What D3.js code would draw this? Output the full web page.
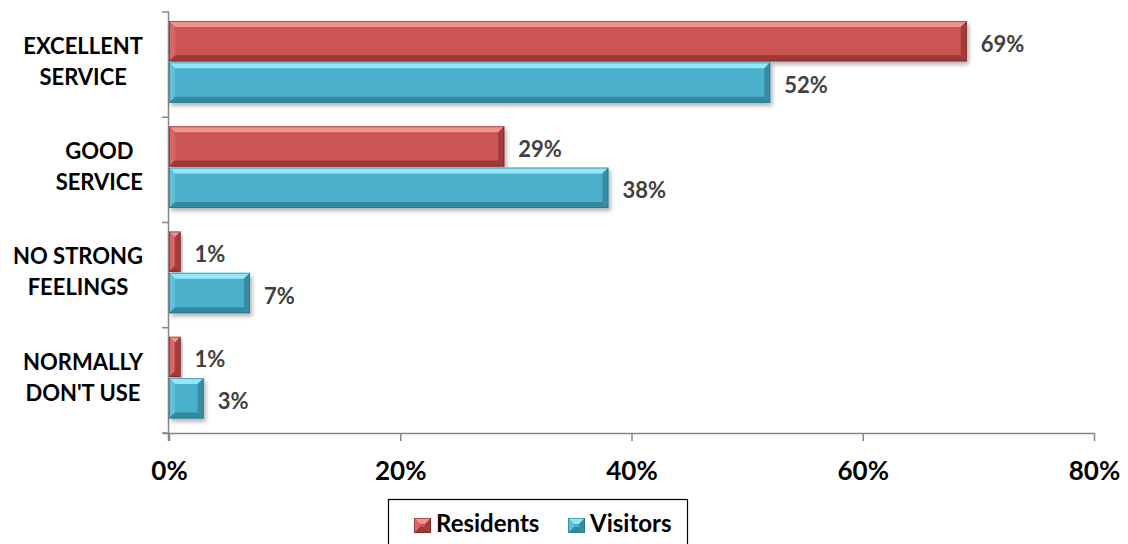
<!DOCTYPE html>
<html>
<head>
<meta charset="utf-8">
<script src="https://cdn.jsdelivr.net/npm/d3@7"></script>
<style>
  html, body { margin: 0; padding: 0; background: #fff; }
  svg { display: block; }
  text { font-family: Lato, "Open Sans", "Liberation Sans", sans-serif; font-weight: 700; }
</style>
</head>
<body>
<svg id="chart" width="1128" height="544"></svg>
<script>
// Survey categories (top to bottom) and the two respondent groups
const categories = ["EXCELLENT SERVICE", "GOOD SERVICE", "NO STRONG FEELINGS", "NORMALLY DON'T USE"];
const categoryLines = [["EXCELLENT", "SERVICE"], ["GOOD", "SERVICE"], ["NO STRONG", "FEELINGS"], ["NORMALLY", "DON'T USE"]];
const seriesNames = ["Residents", "Visitors"];
const residents = [69, 29, 1, 1];
const visitors = [52, 38, 7, 3];
const xTicks = [0, 20, 40, 60, 80];

const palette = {
  Residents: { body: "#CB5452", light: "#F39391", mid: "#D86664", dark: "#8E3231", edge: "#6E2221" },
  Visitors:  { body: "#4BB0CB", light: "#93E9FB", mid: "#5FC1DA", dark: "#2F7F93", edge: "#23667A" }
};

const svg = d3.select("#chart");
const plot = { left: 169, right: 1094, top: 12, bottom: 433 };

const x = d3.scaleLinear().domain([0, 80]).range([plot.left, plot.right]);
const y = d3.scaleBand().domain(categories).range([plot.top, plot.bottom])
  .paddingInner(0.215).paddingOuter(0.1075).align(0.4);
const ys = d3.scaleBand().domain(seriesNames).range([0, y.bandwidth()]).padding(0);

const defs = svg.append("defs");
const shadow = defs.append("filter").attr("id", "barShadow")
  .attr("x", "-10%").attr("y", "-20%").attr("width", "130%").attr("height", "160%");
shadow.append("feDropShadow").attr("dx", 2).attr("dy", 3).attr("stdDeviation", 2)
  .attr("flood-color", "#000").attr("flood-opacity", 0.3);

// Axes
const axisColor = "#868686";
const xAxis = svg.append("g").attr("transform", `translate(0,${plot.bottom})`)
  .call(d3.axisBottom(x).tickValues(xTicks).tickSize(8).tickSizeOuter(0).tickFormat(d => d + "%"));
xAxis.select(".domain").attr("stroke", axisColor).attr("stroke-width", 1.5)
  .attr("d", `M${plot.left - 6},0.5H${plot.right}`);
xAxis.selectAll(".tick line").attr("stroke", axisColor).attr("stroke-width", 1.5);
xAxis.selectAll(".tick text").attr("fill", "#000").attr("font-size", 26).attr("dy", 0).attr("y", 47);

const yTickPos = d3.range(categories.length + 1).map(i => plot.top + i * (plot.bottom - plot.top) / categories.length);
const yAxis = svg.append("g");
yAxis.append("line").attr("x1", plot.left - 0.5).attr("x2", plot.left - 0.5)
  .attr("y1", plot.top).attr("y2", plot.bottom + 8).attr("stroke", axisColor).attr("stroke-width", 1.5);
yAxis.selectAll("line.tk").data(yTickPos).join("line").attr("class", "tk")
  .attr("x1", plot.left - 7).attr("x2", plot.left).attr("y1", d => d).attr("y2", d => d)
  .attr("stroke", axisColor).attr("stroke-width", 1.5);

// Category labels: two centred lines, block right-aligned near the axis
const labelRight = 143;
categories.forEach((c, i) => {
  const cy = y(c) + y.bandwidth() / 2;
  const g = svg.append("g");
  const lines = categoryLines[i];
  const t = g.selectAll("text").data(lines).join("text")
    .attr("font-size", 22).attr("fill", "#000").attr("text-anchor", "middle")
    .attr("y", (d, j) => cy + (j - 0.5) * 31 + 7)
    .text(d => d);
  let maxW = 0;
  t.each(function () { maxW = Math.max(maxW, this.getComputedTextLength()); });
  t.attr("x", labelRight - maxW / 2);
});

// Bevelled bars
function drawBar(g, x0, x1, y0, h, col, withShadow) {
  const w = x1 - x0;
  const b = Math.min(6, w / 2, h / 2);
  const bar = g.append("g");
  if (withShadow) bar.attr("filter", "url(#barShadow)");
  bar.append("rect").attr("x", x0).attr("y", y0).attr("width", w).attr("height", h).attr("fill", col.body);
  const pts = (arr) => arr.map(p => p.join(",")).join(" ");
  // top facet
  bar.append("polygon").attr("points", pts([[x0, y0], [x1, y0], [x1 - b, y0 + b], [x0 + b, y0 + b]])).attr("fill", col.light);
  // left facet
  bar.append("polygon").attr("points", pts([[x0, y0], [x0 + b, y0 + b], [x0 + b, y0 + h - b], [x0, y0 + h]])).attr("fill", col.mid);
  // right facet
  bar.append("polygon").attr("points", pts([[x1, y0], [x1, y0 + h], [x1 - b, y0 + h - b], [x1 - b, y0 + b]])).attr("fill", col.dark).attr("opacity", 0.7);
  // bottom facet
  bar.append("polygon").attr("points", pts([[x0, y0 + h], [x0 + b, y0 + h - b], [x1 - b, y0 + h - b], [x1, y0 + h]])).attr("fill", col.dark).attr("opacity", 0.8);
  bar.append("rect").attr("x", x0 + 0.5).attr("y", y0 + 0.5).attr("width", Math.max(0, w - 1)).attr("height", h - 1)
    .attr("fill", "none").attr("stroke", col.edge).attr("stroke-width", 1).attr("opacity", 0.55);
}

const seriesData = { Residents: residents, Visitors: visitors };
const barsG = svg.append("g");
const labelsG = svg.append("g");
seriesNames.forEach(s => {
  seriesData[s].forEach((v, i) => {
    const c = categories[i];
    const y0 = y(c) + ys(s);
    const h = ys.bandwidth() - 1;
    drawBar(barsG, x(0), x(v), y0, h, palette[s], true);
    labelsG.append("text").attr("x", x(v) + 14).attr("y", y0 + h / 2 + 10.5)
      .attr("font-size", 22).attr("fill", "#404040").text(v + "%");
  });
});

// Legend
const legend = svg.append("g");
legend.append("rect").attr("x", 388.5).attr("y", 499.5).attr("width", 299).attr("height", 60)
  .attr("fill", "#fff").attr("stroke", "#000").attr("stroke-width", 1.2);
const legendItems = [{ name: "Residents", mx: 414, tx: 436 }, { name: "Visitors", mx: 568, tx: 590 }];
legendItems.forEach(it => {
  const col = palette[it.name];
  const g = legend.append("g");
  drawBar(g, it.mx, it.mx + 17, 518, 15, col, false);
  g.append("text").attr("x", it.tx).attr("y", 532).attr("font-size", 24).attr("fill", "#000").text(it.name);
});
</script>
</body>
</html>
